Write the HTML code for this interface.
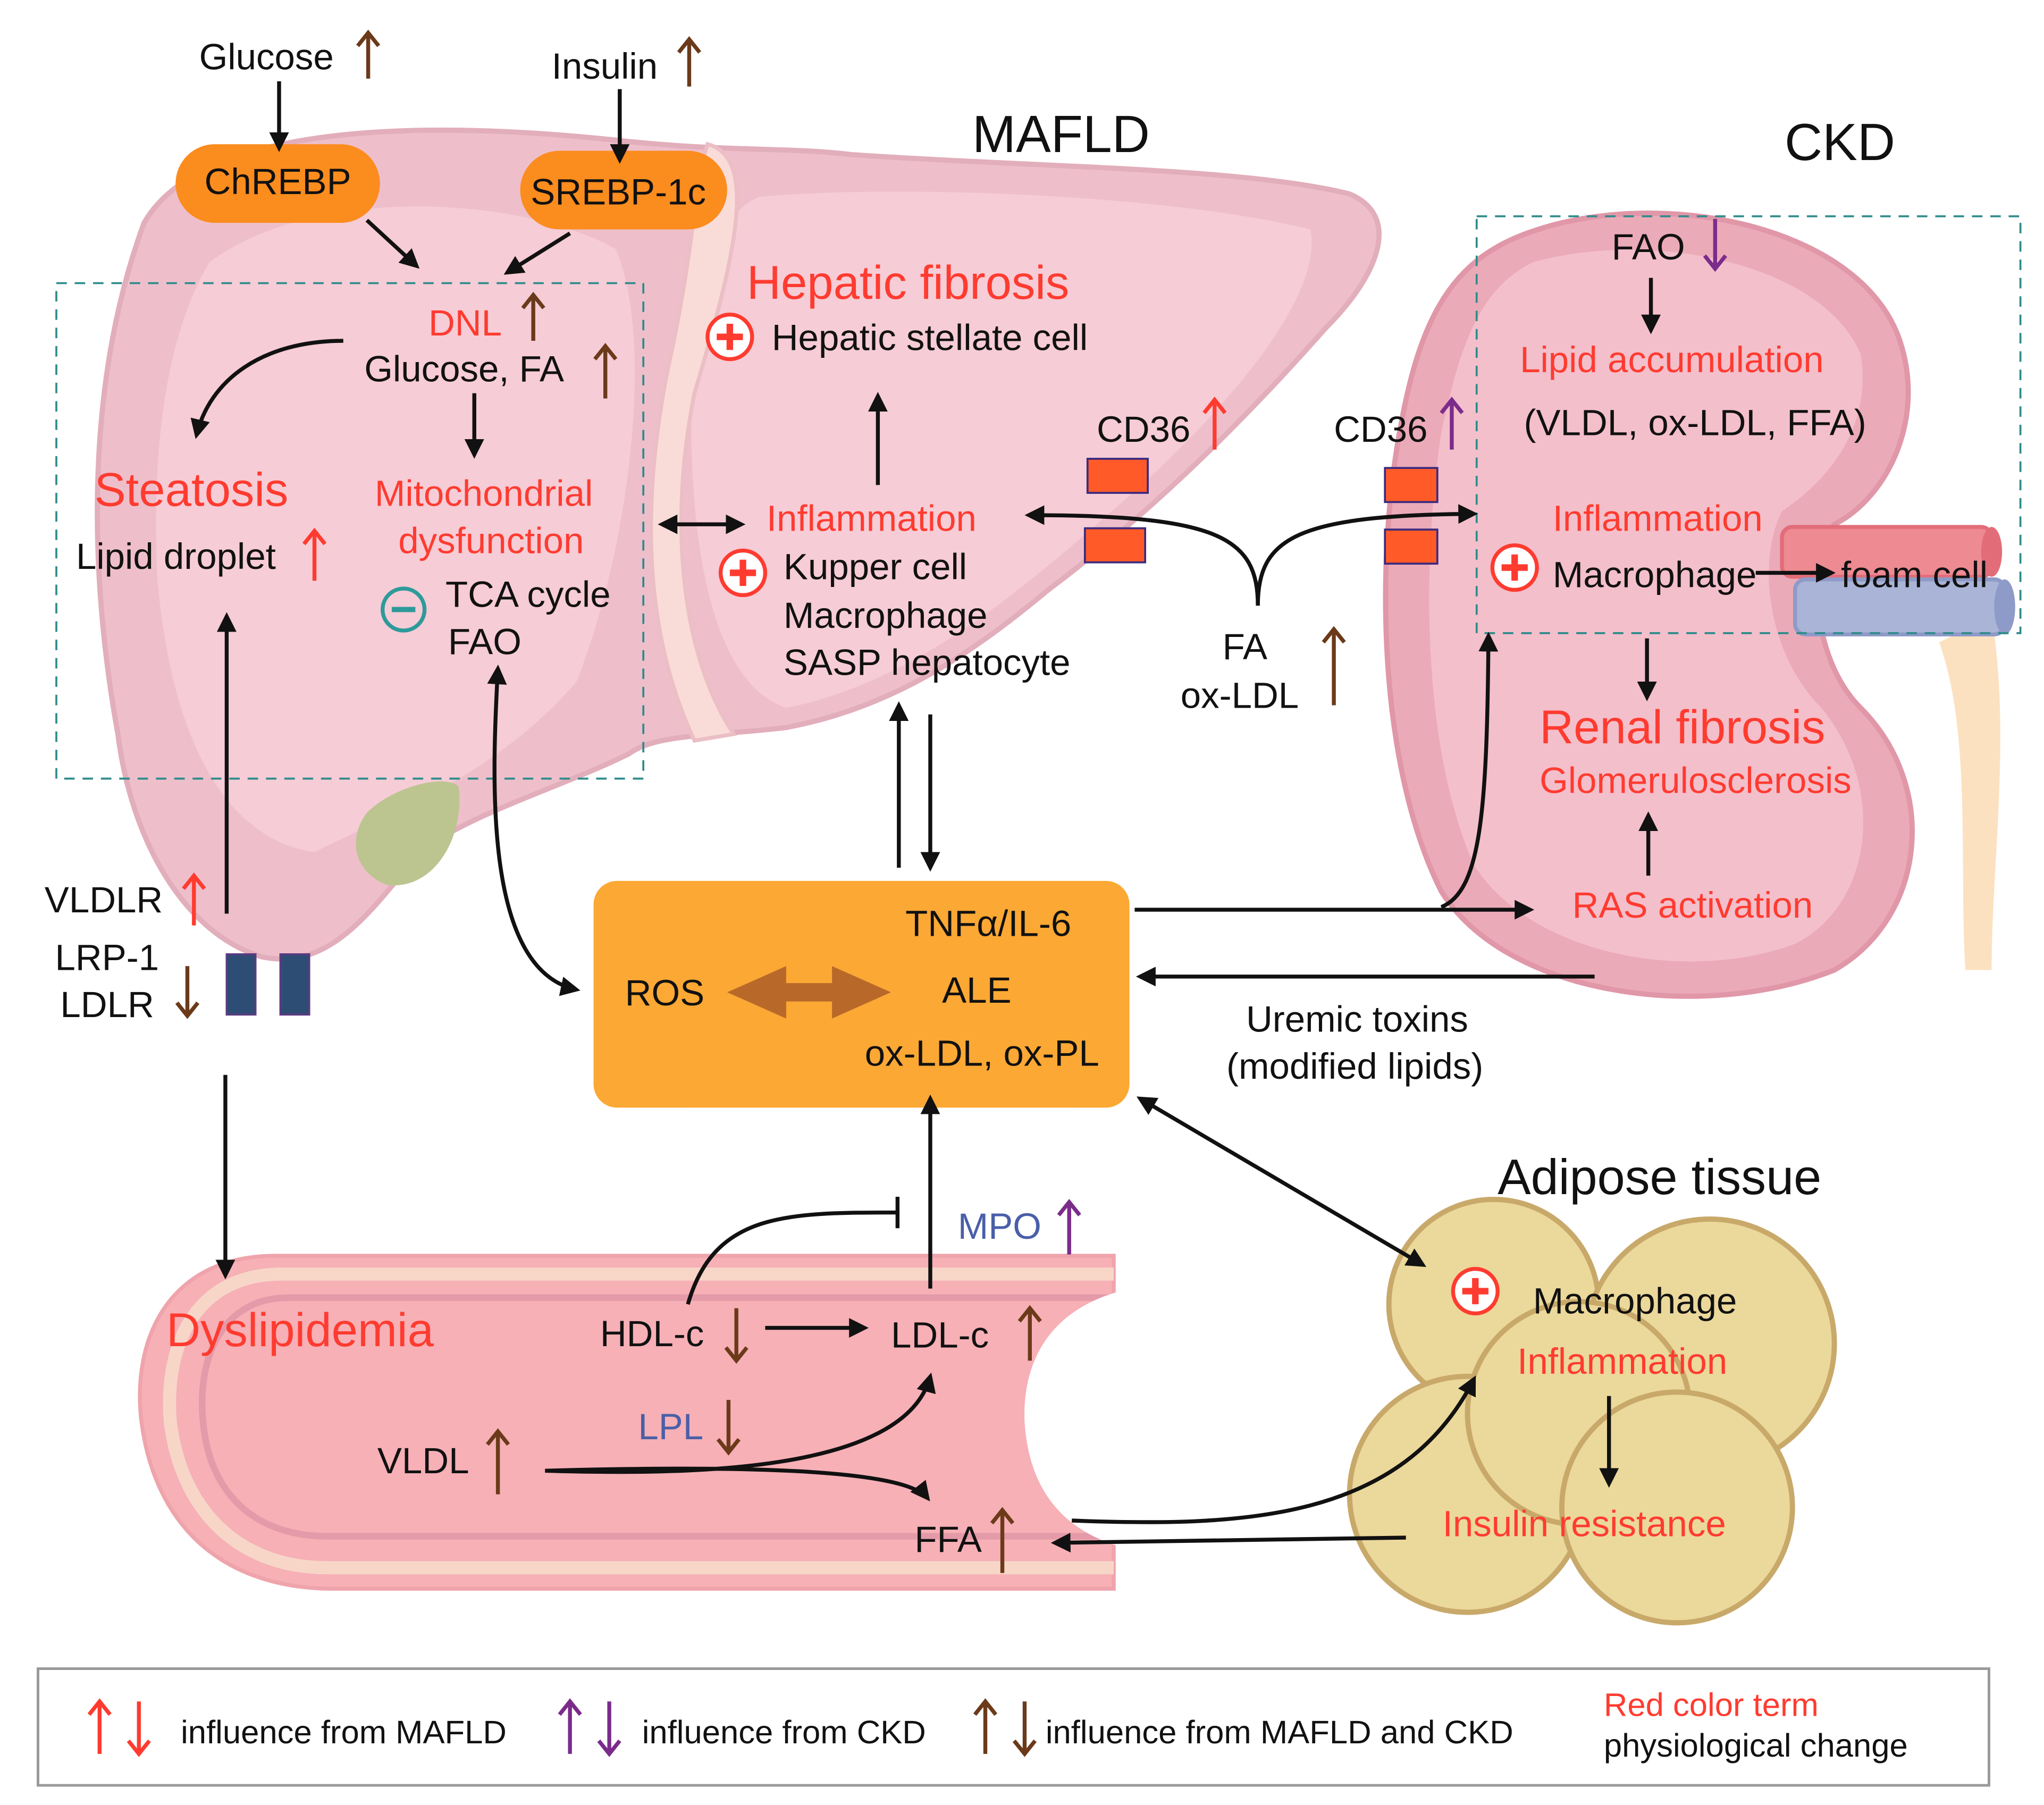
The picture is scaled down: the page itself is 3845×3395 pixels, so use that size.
<!DOCTYPE html>
<html><head><meta charset="utf-8"><style>
html,body{margin:0;padding:0;background:#fff;}
svg{display:block;}
text{font-family:"Liberation Sans",Arial,sans-serif;}
</style></head><body>
<svg width="3845" height="3395" viewBox="0 0 1560 1377" preserveAspectRatio="none" xmlns="http://www.w3.org/2000/svg">
<defs>
<marker id="a" viewBox="0 0 10 10" refX="8" refY="5" markerWidth="5" markerHeight="5" orient="auto-start-reverse"><path d="M0,0 L10,5 L0,10 z" fill="#111"/></marker>
</defs>
<rect width="1560" height="1377" fill="#fff"/>

<!-- Liver -->
<path d="M110,170 C150,100 300,88 480,108 C560,116 600,112 650,118 C800,128 950,128 1030,148 C1070,165 1052,210 1012,250 C950,320 880,390 800,450 C740,500 680,540 600,555 C540,562 500,560 480,575 C430,600 360,620 320,650 C280,700 250,740 200,730 C140,712 100,640 90,560 C70,450 62,300 110,170 Z" fill="#EEBFCB" stroke="#E2AEBB" stroke-width="4"/>
<path d="M160,200 C240,140 400,150 470,190 C500,260 480,420 440,520 C380,590 300,620 240,650 C170,640 130,560 120,440 C115,330 130,250 160,200 Z" fill="#F6CCD6"/>
<path d="M580,150 C700,140 900,150 1000,175 C1010,220 950,300 860,380 C780,450 700,520 600,540 C540,520 520,400 530,250 C540,190 555,160 580,150 Z" fill="#F6CCD6"/>
<path d="M540,110 C580,120 560,200 530,300 C510,400 520,500 560,560 L530,565 C490,480 490,380 510,280 C530,190 530,140 540,110 Z" fill="#F9DCD8" stroke="#EBBFC5" stroke-width="3"/>
<path d="M280,620 C300,600 340,590 350,600 C355,640 330,680 295,675 C270,665 265,640 280,620 Z" fill="#BCC590"/>

<!-- Kidney -->
<path d="M1520,470 C1535,560 1520,660 1520,740 L1500,740 C1495,660 1505,560 1480,490 Z" fill="#FCE1C0"/>
<path d="M1160,180 C1260,140 1420,170 1450,260 C1470,320 1440,380 1400,400 C1380,420 1380,500 1420,540 C1480,600 1470,700 1400,740 C1300,780 1150,760 1100,680 C1050,580 1050,420 1070,320 C1085,240 1110,200 1160,180 Z" fill="#EBAAB8" stroke="#E097A8" stroke-width="4"/>
<path d="M1170,200 C1260,175 1390,200 1420,270 C1430,330 1390,370 1360,390 C1340,430 1350,500 1390,540 C1440,600 1430,690 1370,720 C1290,750 1170,730 1125,660 C1085,570 1085,430 1100,330 C1115,260 1130,220 1170,200 Z" fill="#F3BFCB"/>
<rect x="1360" y="402" width="160" height="38" rx="8" fill="#EE8A92" stroke="#E26D78" stroke-width="3"/>
<ellipse cx="1520" cy="421" rx="8" ry="19" fill="#E26D78"/>
<rect x="1370" y="442" width="160" height="42" rx="8" fill="#A9B4D6" stroke="#8E9AC8" stroke-width="3"/>
<ellipse cx="1530" cy="463" rx="8" ry="21" fill="#8E9AC8"/>

<!-- Vessel -->
<path d="M850,958 L210,958 C130,958 100,1020 108,1085 C118,1160 165,1210 250,1212 L850,1212 Z" fill="#F6B0B6" stroke="#EFA4AC" stroke-width="3"/>
<path d="M850,972 L215,972 C150,972 125,1025 130,1085 C138,1150 180,1196 250,1196 L850,1196" fill="none" stroke="#F7D6C8" stroke-width="10"/>
<path d="M850,990 L220,990 C170,990 150,1035 155,1085 C160,1140 195,1172 250,1172 L850,1172" fill="none" stroke="#E49AA8" stroke-width="5"/>
<path d="M855,985 C800,1000 780,1040 782,1085 C785,1130 805,1165 855,1180 Z" fill="#fff"/>

<!-- Adipose -->
<g fill="#EBD89B" stroke="#C8A96A" stroke-width="4">
<circle cx="1140" cy="995" r="80"/>
<circle cx="1305" cy="1025" r="95"/>
<circle cx="1120" cy="1140" r="90"/>
<circle cx="1205" cy="1078" r="85"/>
<circle cx="1280" cy="1150" r="88"/>
</g>

<!-- dashed boxes -->
<rect x="43" y="216" width="448" height="378" fill="none" stroke="#2E8B8B" stroke-width="1.5" stroke-dasharray="8,6"/>
<rect x="1127" y="165" width="415" height="318" fill="none" stroke="#2E8B8B" stroke-width="1.5" stroke-dasharray="8,6"/>

<!-- legend -->
<rect x="29" y="1273" width="1489" height="89" fill="#fff" stroke="#999" stroke-width="2"/>

<!-- Orange box -->
<rect x="453" y="672" width="409" height="173" rx="18" fill="#FBA834"/>
<path d="M555,757 L600,737 L600,750 L635,750 L635,737 L680,757 L635,777 L635,764 L600,764 L600,777 Z" fill="#B8692A"/>

<!-- pills -->
<rect x="134" y="110" width="156" height="60" rx="30" fill="#FB8C1E"/>
<rect x="397" y="115" width="158" height="60" rx="30" fill="#FB8C1E"/>

<!-- receptors -->
<g fill="#FF5A28" stroke="#3A2A80" stroke-width="1.5">
<rect x="830" y="350" width="46" height="26"/><rect x="828" y="403" width="46" height="26"/>
<rect x="1057" y="357" width="40" height="26"/><rect x="1057" y="404" width="40" height="26"/>
</g>
<g fill="#2E4D74" stroke="#5A3A80" stroke-width="1.5"><rect x="173" y="728" width="22" height="46"/><rect x="214" y="728" width="22" height="46"/></g>

<!-- arrows -->
<g stroke="#111" stroke-width="3" fill="none" marker-end="url(#a)">
<line x1="213" y1="62" x2="213" y2="113"/>
<line x1="473" y1="68" x2="473" y2="122"/>
<line x1="280" y1="168" x2="318" y2="203"/>
<line x1="435" y1="178" x2="387" y2="208"/>
<path d="M262,260 C200,260 160,290 150,332"/>
<line x1="362" y1="300" x2="362" y2="347"/>
<line x1="173" y1="697" x2="173" y2="470"/>
<path d="M380,510 C375,600 370,740 440,755" marker-start="url(#a)"/>
<line x1="505" y1="400" x2="566" y2="400" marker-start="url(#a)"/>
<line x1="670" y1="370" x2="670" y2="302"/>
<path d="M960,462 C960,410 930,393 785,393"/>
<path d="M960,462 C960,410 990,393 1125,392"/>
<line x1="1260" y1="212" x2="1260" y2="252"/>
<line x1="1257" y1="487" x2="1257" y2="532"/>
<line x1="1258" y1="668" x2="1258" y2="622"/>
<line x1="1340" y1="437" x2="1398" y2="437"/>
<line x1="686" y1="662" x2="686" y2="538"/>
<line x1="710" y1="545" x2="710" y2="662"/>
<line x1="866" y1="694" x2="1168" y2="694"/>
<path d="M1100,692 C1130,680 1135,620 1136,485"/>
<line x1="1217" y1="745" x2="870" y2="745"/>
<line x1="172" y1="820" x2="172" y2="973"/>
<line x1="710" y1="983" x2="710" y2="838"/>
<path d="M525,995 C545,925 600,925 685,925" marker-end="none"/>
<line x1="584" y1="1013" x2="660" y2="1013"/>
<path d="M416,1122 C520,1125 690,1125 710,1050"/>
<path d="M416,1122 C560,1118 690,1120 708,1143"/>
<line x1="870" y1="838" x2="1086" y2="965" marker-start="url(#a)"/>
<path d="M818,1160 C950,1165 1070,1160 1125,1052"/>
<line x1="1073" y1="1173" x2="805" y2="1177"/>
<line x1="1228" y1="1065" x2="1228" y2="1132"/>
</g>
<line x1="685" y1="913" x2="685" y2="937" stroke="#111" stroke-width="3"/>

<!-- small arrow glyphs -->
<g stroke-width="3" fill="none">
<path d="M281,60 V25 M273,35 L281,25 L289,35" stroke="#6B3A1A"/>
<path d="M526,66 V30 M518,40 L526,30 L534,40" stroke="#6B3A1A"/>
<path d="M407,260 V225 M399,235 L407,225 L415,235" stroke="#6B3A1A"/>
<path d="M462,304 V264 M454,274 L462,264 L470,274" stroke="#6B3A1A"/>
<path d="M240,443 V405 M232,415 L240,405 L248,415" stroke="#FF3B30"/>
<path d="M927,343 V305 M919,315 L927,305 L935,315" stroke="#FF3B30"/>
<path d="M1108,343 V305 M1100,315 L1108,305 L1116,315" stroke="#7B2C8B"/>
<path d="M1309,167 V205 M1301,195 L1309,205 L1317,195" stroke="#7B2C8B"/>
<path d="M1018,538 V480 M1010,490 L1018,480 L1026,490" stroke="#6B3A1A"/>
<path d="M148,706 V668 M140,678 L148,668 L156,678" stroke="#FF3B30"/>
<path d="M143,737 V775 M135,765 L143,775 L151,765" stroke="#6B3A1A"/>
<path d="M816,957 V917 M808,927 L816,917 L824,927" stroke="#7B2C8B"/>
<path d="M562,998 V1038 M554,1028 L562,1038 L570,1028" stroke="#6B3A1A"/>
<path d="M786,1038 V998 M778,1008 L786,998 L794,1008" stroke="#6B3A1A"/>
<path d="M556,1068 V1108 M548,1098 L556,1108 L564,1098" stroke="#6B3A1A"/>
<path d="M380,1140 V1092 M372,1102 L380,1092 L388,1102" stroke="#6B3A1A"/>
<path d="M765,1200 V1152 M757,1162 L765,1152 L773,1162" stroke="#6B3A1A"/>
<path d="M76,1338 V1298 M68,1308 L76,1298 L84,1308" stroke="#FF3B30"/>
<path d="M106,1298 V1338 M98,1328 L106,1338 L114,1328" stroke="#FF3B30"/>
<path d="M435,1338 V1298 M427,1308 L435,1298 L443,1308" stroke="#7B2C8B"/>
<path d="M465,1298 V1338 M457,1328 L465,1338 L473,1328" stroke="#7B2C8B"/>
<path d="M752,1338 V1298 M744,1308 L752,1298 L760,1308" stroke="#6B3A1A"/>
<path d="M782,1298 V1338 M774,1328 L782,1338 L790,1328" stroke="#6B3A1A"/>
</g>

<!-- plus/minus circles -->
<g stroke-width="3">
<circle cx="557" cy="257" r="17" fill="#fff" stroke="#FF3B30"/><path d="M547,257 H567 M557,247 V267" stroke="#FF3B30" stroke-width="5"/>
<circle cx="567" cy="437" r="17" fill="#fff" stroke="#FF3B30"/><path d="M557,437 H577 M567,427 V447" stroke="#FF3B30" stroke-width="5"/>
<circle cx="1156" cy="433" r="17" fill="#fff" stroke="#FF3B30"/><path d="M1146,433 H1166 M1156,423 V443" stroke="#FF3B30" stroke-width="5"/>
<circle cx="1126" cy="985" r="17" fill="#fff" stroke="#FF3B30"/><path d="M1116,985 H1136 M1126,975 V995" stroke="#FF3B30" stroke-width="5"/>
<circle cx="308" cy="465" r="16" fill="none" stroke="#2E9A9A"/><path d="M299,465 H317" stroke="#2E9A9A" stroke-width="4"/>
</g>

<!-- text -->
<g font-size="28" fill="#111">
<text x="152" y="53">Glucose</text>
<text x="421" y="60">Insulin</text>
<text x="156" y="148">ChREBP</text>
<text x="405" y="156">SREBP-1c</text>
<text x="278" y="291">Glucose, FA</text>
<text x="58" y="434">Lipid droplet</text>
<text x="340" y="463">TCA cycle</text>
<text x="342" y="499">FAO</text>
<text x="589" y="267">Hepatic stellate cell</text>
<text x="598" y="442">Kupper cell</text>
<text x="598" y="479">Macrophage</text>
<text x="598" y="515">SASP hepatocyte</text>
<text x="837" y="337">CD36</text>
<text x="1018" y="337">CD36</text>
<text x="933" y="503">FA</text>
<text x="901" y="540">ox-LDL</text>
<text x="1230" y="198">FAO</text>
<text x="1163" y="332">(VLDL, ox-LDL, FFA)</text>
<text x="1185" y="448">Macrophage</text>
<text x="1405" y="448">foam cell</text>
<text x="34" y="696">VLDLR</text>
<text x="42" y="740">LRP-1</text>
<text x="46" y="776">LDLR</text>
<text x="691" y="714">TNFα/IL-6</text>
<text x="477" y="767">ROS</text>
<text x="719" y="765">ALE</text>
<text x="660" y="813">ox-LDL, ox-PL</text>
<text x="951" y="787">Uremic toxins</text>
<text x="936" y="823">(modified lipids)</text>
<text x="1170" y="1002">Macrophage</text>
<text x="458" y="1027">HDL-c</text>
<text x="680" y="1028">LDL-c</text>
<text x="288" y="1124">VLDL</text>
<text x="698" y="1184">FFA</text>
<text x="138" y="1330" font-size="25">influence from MAFLD</text>
<text x="490" y="1330" font-size="25">influence from CKD</text>
<text x="798" y="1330" font-size="25">influence from MAFLD and CKD</text>
<text x="1224" y="1340" font-size="25">physiological change</text>
<text x="742" y="116" font-size="40">MAFLD</text>
<text x="1362" y="122" font-size="40">CKD</text>
<text x="1143" y="911" font-size="38">Adipose tissue</text>
</g>
<g fill="#FF3B30" font-size="28">
<text x="327" y="256">DNL</text>
<text x="286" y="386">Mitochondrial</text>
<text x="304" y="422">dysfunction</text>
<text x="585" y="405">Inflammation</text>
<text x="1160" y="284">Lipid accumulation</text>
<text x="1185" y="405">Inflammation</text>
<text x="1175" y="605">Glomerulosclerosis</text>
<text x="1200" y="700">RAS  activation</text>
<text x="1158" y="1048">Inflammation</text>
<text x="1101" y="1172">Insulin resistance</text>
<text x="1224" y="1309" font-size="25">Red color term</text>
<text x="72" y="386" font-size="36">Steatosis</text>
<text x="570" y="228" font-size="36">Hepatic fibrosis</text>
<text x="1175" y="567" font-size="36">Renal fibrosis</text>
<text x="127" y="1027" font-size="36">Dyslipidemia</text>
</g>
<text x="731" y="945" font-size="28" fill="#4A5FA8">MPO</text>
<text x="487" y="1098" font-size="28" fill="#4A5FA8">LPL</text>
</svg>
</body></html>
